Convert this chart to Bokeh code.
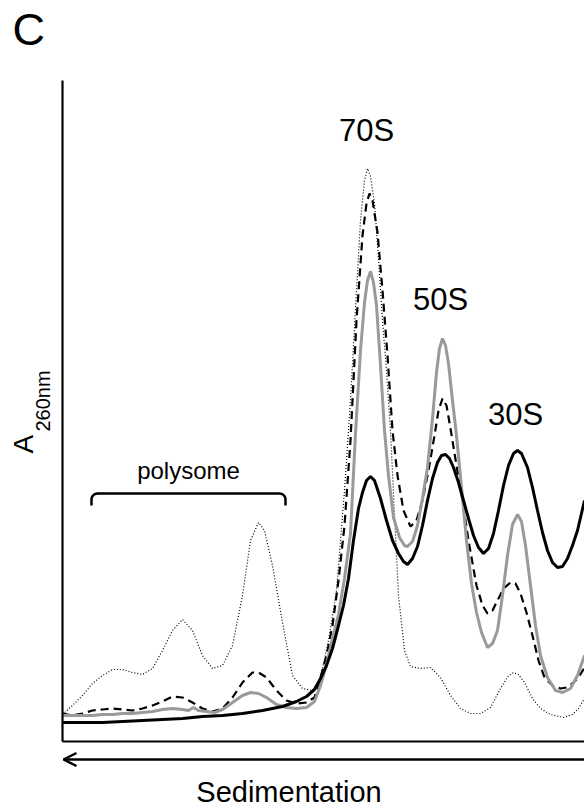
import numpy as np
from bokeh.plotting import figure
from bokeh.models import Range1d, Label, Arrow, OpenHead, FixedTicker
from bokeh.embed import file_html
from bokeh.resources import INLINE

# ---------------- data (x: relative position along gradient, y: A260, arbitrary units)
dotted_x = [0, 2, 4, 6, 8, 10, 12, 14, 16, 18, 20, 22, 24, 26, 28, 30, 32, 34, 36, 37.6, 39.2,
            40.4, 42, 44, 46, 48, 50, 51.6, 53.2, 54.8, 56.4, 57.6, 58.8, 59.6, 60.4, 61, 61.6,
            62.4, 63.2, 64, 64.8, 65.6, 66.4, 67.2, 68.4, 69.6, 71.6, 73.6, 75.6, 77.6, 79.6,
            81.6, 83.6, 85.6, 87.6, 89.2, 90.2, 91.2, 92.4, 94, 95.6, 97.6, 100.2, 102, 103.2, 104.4]
dotted_y = [0.054, 0.072, 0.092, 0.116, 0.132, 0.144, 0.144, 0.138, 0.134, 0.146, 0.182, 0.222,
            0.244, 0.222, 0.172, 0.146, 0.152, 0.192, 0.292, 0.402, 0.438, 0.422, 0.352, 0.238,
            0.132, 0.106, 0.102, 0.128, 0.202, 0.302, 0.502, 0.682, 0.902, 1.042, 1.122, 1.146,
            1.130, 1.076, 0.966, 0.842, 0.742, 0.622, 0.452, 0.292, 0.182, 0.150, 0.146, 0.148,
            0.128, 0.092, 0.066, 0.056, 0.056, 0.068, 0.106, 0.132, 0.138, 0.134, 0.118, 0.086,
            0.066, 0.054, 0.048, 0.054, 0.066, 0.086]

dashed_x = [0, 2, 4, 6, 8, 10, 12, 14, 16, 18, 20, 22, 24, 26, 28, 30, 32, 34, 36, 38, 39.2,
            40.8, 42.8, 44.8, 46.8, 48.8, 50.4, 51.6, 52.8, 54, 55.2, 56.4, 57.6, 58.8, 60, 60.8,
            61.4, 62, 63, 64, 65, 66, 67, 68.2, 69.6, 70.8, 72, 73.2, 74.4, 75.2, 76, 76.8, 77.6,
            78.8, 80, 81.2, 82.8, 84, 85, 86, 87, 88.2, 89.6, 90.6, 91.6, 92.8, 94, 95.2, 96.4,
            98, 99.6, 100.8, 102, 103.2, 104.4]
dashed_y = [0.056, 0.052, 0.056, 0.062, 0.064, 0.066, 0.064, 0.062, 0.066, 0.072, 0.080, 0.090,
            0.088, 0.078, 0.066, 0.060, 0.066, 0.088, 0.118, 0.138, 0.138, 0.128, 0.102, 0.082,
            0.076, 0.078, 0.088, 0.128, 0.172, 0.232, 0.322, 0.432, 0.602, 0.842, 1.012, 1.076,
            1.096, 1.082, 1.018, 0.902, 0.772, 0.622, 0.532, 0.462, 0.430, 0.442, 0.482, 0.542,
            0.612, 0.662, 0.686, 0.672, 0.626, 0.552, 0.482, 0.402, 0.312, 0.272, 0.256, 0.262,
            0.282, 0.306, 0.318, 0.316, 0.296, 0.258, 0.212, 0.162, 0.128, 0.112, 0.106, 0.108,
            0.116, 0.128, 0.148]

gray_x = [0, 2, 4, 6, 8, 10, 12, 14, 16, 18, 20, 22, 24, 25.2, 26.2, 27.2, 28.8, 30.4, 32, 34,
          36, 37.6, 39.2, 40.8, 42.8, 44.8, 46.8, 48.8, 50.4, 51.6, 52.8, 54, 55.2, 56.4, 57.6,
          58.6, 59.6, 60.4, 61, 61.6, 62.2, 62.8, 63.6, 64.4, 65.2, 66.2, 67.4, 68.4, 69, 70, 71,
          72, 73, 74, 74.8, 75.4, 76, 76.6, 77.2, 78, 78.8, 79.8, 80.8, 81.8, 82.8, 83.8, 85, 86,
          87, 88, 89, 90, 91, 91.8, 92.6, 93.6, 94.6, 95.6, 97, 98.6, 100, 101.6, 103, 104.4]
gray_y = [0.052, 0.052, 0.052, 0.052, 0.054, 0.054, 0.056, 0.056, 0.058, 0.060, 0.064, 0.066,
          0.064, 0.062, 0.068, 0.062, 0.060, 0.058, 0.064, 0.078, 0.092, 0.098, 0.096, 0.088,
          0.074, 0.068, 0.066, 0.068, 0.080, 0.112, 0.154, 0.206, 0.254, 0.326, 0.416, 0.616,
          0.782, 0.878, 0.922, 0.940, 0.918, 0.872, 0.752, 0.622, 0.532, 0.448, 0.408, 0.392,
          0.390, 0.400, 0.432, 0.486, 0.548, 0.646, 0.738, 0.786, 0.806, 0.792, 0.756, 0.682,
          0.612, 0.508, 0.402, 0.316, 0.258, 0.218, 0.188, 0.196, 0.222, 0.292, 0.372, 0.434,
          0.454, 0.440, 0.392, 0.312, 0.232, 0.172, 0.128, 0.102, 0.098, 0.106, 0.132, 0.172]

black_x = [0, 4, 8, 12, 16, 20, 24, 28, 32, 36, 40, 44, 46.8, 48.8, 50.4, 51.6, 52.8, 54, 55.2,
           56.2, 57.2, 58.2, 59.2, 60, 60.8, 61.6, 62.4, 63.6, 64.8, 66, 67.2, 68.2, 69, 70, 71,
           72, 73, 74, 75, 75.8, 76.6, 77.4, 78.2, 79.2, 80.2, 81.2, 82.2, 83.2, 84.2, 85.2, 86.2,
           87.2, 88.2, 89.2, 90.2, 91, 91.8, 93, 94, 95, 96, 97, 98, 99, 100, 101, 102, 103, 104.4]
black_y = [0.038, 0.038, 0.038, 0.040, 0.042, 0.044, 0.046, 0.050, 0.052, 0.056, 0.062, 0.070,
           0.080, 0.090, 0.104, 0.126, 0.152, 0.186, 0.232, 0.272, 0.326, 0.402, 0.466, 0.498,
           0.522, 0.530, 0.522, 0.486, 0.442, 0.402, 0.376, 0.360, 0.354, 0.366, 0.390, 0.432,
           0.482, 0.526, 0.558, 0.572, 0.574, 0.566, 0.548, 0.518, 0.482, 0.446, 0.412, 0.388,
           0.376, 0.386, 0.416, 0.462, 0.512, 0.552, 0.576, 0.582, 0.576, 0.548, 0.508, 0.462,
           0.418, 0.382, 0.358, 0.348, 0.350, 0.366, 0.392, 0.422, 0.482]

peak_labels = ["70S", "50S", "30S"]
peak_label_x = [60.8, 75.6, 90.6]
peak_label_y = [1.222, 0.884, 0.654]

polysome_start, polysome_end = 5.8, 44.6
x_max, y_max = 104.4, 1.322

FONT = "Liberation Sans"

p = figure(width=584, height=812, output_backend="svg", toolbar_location=None,
           x_range=Range1d(-12.4, x_max), y_range=Range1d(-0.142, 1.482),
           min_border=0)
p.outline_line_color = None
p.grid.visible = False
p.background_fill_color = "white"
p.border_fill_color = "white"
p.xaxis[0].fixed_location = 0
p.xaxis[0].bounds = (0, x_max)
p.yaxis[0].fixed_location = 0
p.yaxis[0].bounds = (0, y_max)
for ax in (p.xaxis[0], p.yaxis[0]):
    ax.ticker = FixedTicker(ticks=[])
    ax.major_tick_line_color = None
    ax.minor_tick_line_color = None
    ax.major_tick_out = 0
    ax.major_tick_in = 0
    ax.minor_tick_out = 0
    ax.minor_tick_in = 0
    ax.major_label_text_font_size = "0px"
    ax.major_label_standoff = 0
    ax.axis_label_standoff = 0
    ax.axis_line_width = 2.2
    ax.axis_line_color = "black"

p.line(dotted_x, dotted_y, line_color="black", line_width=1.2, line_dash="1 2")
p.line(dashed_x, dashed_y, line_color="black", line_width=2.2, line_dash="8 5")
p.line(gray_x, gray_y, line_color="#9a9a9a", line_width=3)
p.line(black_x, black_y, line_color="black", line_width=3)

# peak labels
for t, x, y in zip(peak_labels, peak_label_x, peak_label_y):
    p.add_layout(Label(x=x, y=y, text=t, text_align="center", text_baseline="alphabetic",
                       text_font=FONT, text_font_size="31px", text_color="black"))

# polysome bracket
r_x, r_y = 1.2, 0.012
th = np.linspace(0, np.pi / 2, 8)
yb = 0.496
left_x = polysome_start + r_x - r_x * np.cos(th)
left_y = yb - r_y + r_y * np.sin(th)
right_x = polysome_end - r_x + r_x * np.cos(th[::-1])
right_y = yb - r_y + r_y * np.sin(th[::-1])
bx = np.concatenate([[polysome_start], left_x, right_x, [polysome_end]])
by = np.concatenate([[yb - 0.024], left_y, right_y, [yb - 0.024]])
p.line(bx, by, line_color="black", line_width=2.5)
p.add_layout(Label(x=(polysome_start + polysome_end) / 2, y=0.542, text="polysome",
                   text_align="center", text_baseline="alphabetic", text_font=FONT,
                   text_font_size="24px", text_color="black"))

# panel letter
p.add_layout(Label(x=-10, y=1.424, text="C", text_align="left", text_baseline="alphabetic",
                   text_font=FONT, text_font_size="45px", text_color="black"))

# y label A260nm (rotated)
p.add_layout(Label(x=-7.8, y=0.576, text="A", angle=np.pi / 2, text_align="left",
                   text_baseline="alphabetic", text_font=FONT, text_font_size="28px",
                   text_color="black"))
p.add_layout(Label(x=-4.0, y=0.620, text="260nm", angle=np.pi / 2, text_align="left",
                   text_baseline="alphabetic", text_font=FONT, text_font_size="20px",
                   text_color="black"))

# sedimentation arrow and label
p.add_layout(Arrow(x_start=x_max, y_start=-0.036, x_end=0.2, y_end=-0.036,
                   line_width=2.5, line_color="black",
                   end=OpenHead(size=13, line_width=2.5, line_color="black")))
p.add_layout(Label(x=45.3, y=-0.1, text="Sedimentation", text_align="center",
                   text_baseline="alphabetic", text_font=FONT, text_font_size="29px",
                   text_color="black"))

open("out.html", "w").write(file_html(p, INLINE))
